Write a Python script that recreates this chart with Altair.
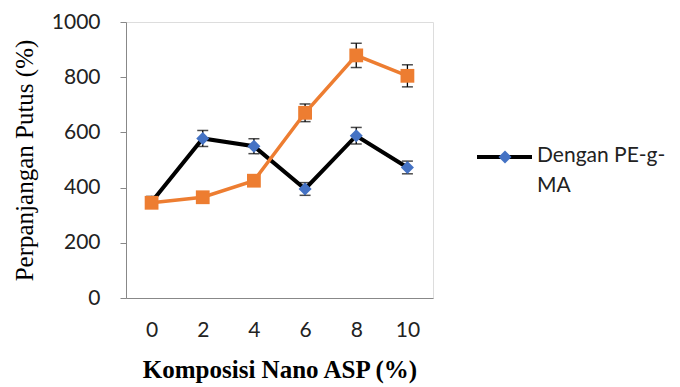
import altair as alt
import pandas as pd

x_labels = ["0", "2", "4", "6", "8", "10"]
series_names = ["Dengan PE-g-MA", "Tanpa PE-g-MA"]
peg_values = [348, 578, 550, 395, 588, 473]
peg_err = [20, 29, 27, 23, 30, 23]
nopeg_values = [345, 365, 425, 671, 879, 805]
nopeg_err = [10, 12, 12, 32, 44, 40]
legend_text = ["Dengan PE-g-", "MA"]

rows = []
for name, vals, errs in [(series_names[0], peg_values, peg_err),
                         (series_names[1], nopeg_values, nopeg_err)]:
    for k, v, e in zip(x_labels, vals, errs):
        rows.append({"komposisi": k, "nilai": v, "lo": v - e, "hi": v + e, "seri": name})
df = pd.DataFrame(rows)

W, H = 307, 276
label_font = "Lato"
serif = "Liberation Serif"

x_enc = alt.X(
    "komposisi:N", sort=x_labels,
    scale=alt.Scale(type="point", padding=0.5),
    axis=alt.Axis(title="Komposisi Nano ASP (%)", titleFont=serif, titleFontWeight="bold",
                  titleFontSize=25, titleColor="black", titlePadding=17,
                  labelFont=label_font, labelFontSize=21, labelColor="#222", labelAngle=0,
                  labelPadding=21, ticks=False, domainColor="#888", domainWidth=1, grid=False),
)
y_scale = alt.Scale(domain=[0, 1000], nice=False)
y_enc = alt.Y(
    "nilai:Q", scale=y_scale,
    axis=alt.Axis(title="Perpanjangan Putus (%)", titleFont=serif, titleFontWeight="normal",
                  titleFontSize=25, titleColor="black", titlePadding=14, format="d",
                  values=[0, 200, 400, 600, 800, 1000], labelFont=label_font, labelFontSize=21,
                  labelColor="#222", labelPadding=20, tickSize=6, tickColor="#888",
                  domainColor="#888", domainWidth=1, grid=False),
)

def series_layers(name, line_color, point_color, shape, size, width):
    d = df[df["seri"] == name]
    base = alt.Chart(d)
    err = base.mark_rule(color="black", strokeWidth=1.3).encode(
        x=x_enc, y=alt.Y("lo:Q", scale=y_scale), y2="hi:Q")
    cap_lo = base.mark_tick(color="black", orient="horizontal", size=11, thickness=1.5).encode(
        x=x_enc, y=alt.Y("lo:Q", scale=y_scale))
    cap_hi = base.mark_tick(color="black", orient="horizontal", size=11, thickness=1.5).encode(
        x=x_enc, y=alt.Y("hi:Q", scale=y_scale))
    line = base.mark_line(color=line_color, strokeWidth=width).encode(x=x_enc, y=y_enc)
    pts = base.mark_point(shape=shape, size=size, filled=True, color=point_color, opacity=1).encode(
        x=x_enc, y=y_enc)
    return [err, cap_lo, cap_hi, line, pts]

layers = series_layers(series_names[0], "black", "#4472C4", "diamond", 170, 4)
layers += series_layers(series_names[1], "#ED7D31", "#ED7D31", "square", 190, 3.5)

leg_df = pd.DataFrame({"t": [legend_text]})
leg_base = alt.Chart(leg_df)
leg_line = leg_base.mark_rule(color="black", strokeWidth=4).encode(
    x=alt.value(351), x2=alt.value(406), y=alt.value(135))
leg_pt = leg_base.mark_point(shape="diamond", size=170, filled=True, color="#4472C4", opacity=1).encode(
    x=alt.value(379), y=alt.value(135))
leg_txt = leg_base.mark_text(align="left", baseline="top", font=label_font, fontSize=21,
                             color="#222", lineHeight=30).encode(
    x=alt.value(411), y=alt.value(123), text="t")

chart = alt.layer(*layers, leg_line, leg_pt, leg_txt).properties(
    width=W, height=H,
    autosize=alt.AutoSizeParams(type="none"),
    padding={"left": 118, "top": 14, "right": 239, "bottom": 86},
).configure_view(stroke=None).configure(background="white")

chart.save("out.html", embed_options={"renderer": "svg", "actions": False})
